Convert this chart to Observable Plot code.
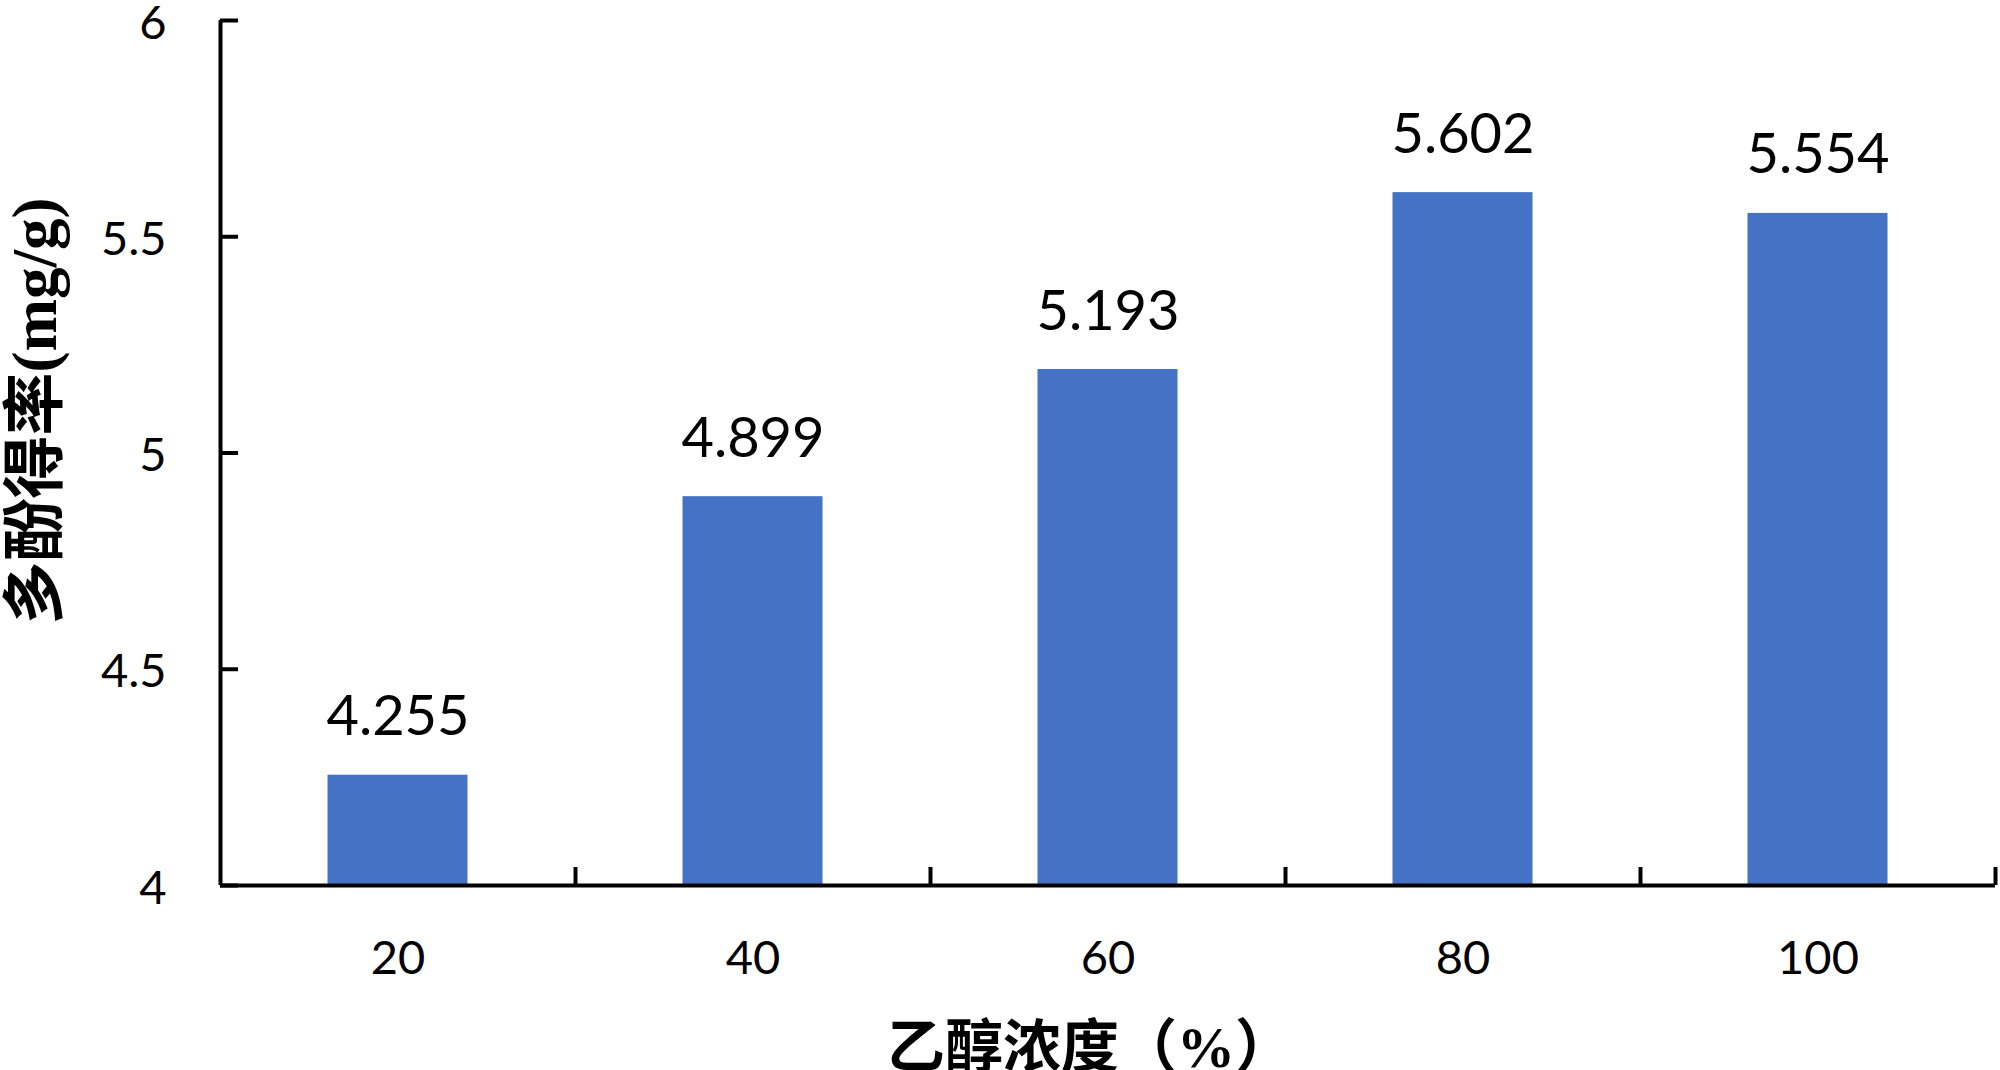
<!DOCTYPE html>
<html>
<head>
<meta charset="utf-8">
<script src="https://cdn.jsdelivr.net/npm/d3@7"></script>
<script src="https://cdn.jsdelivr.net/npm/@observablehq/plot@0.6"></script>
<style>
  html, body { margin: 0; padding: 0; background: #fff; }
  svg { display: block; }
</style>
</head>
<body>
<div id="chart"></div>
<script>
const categories = ["20", "40", "60", "80", "100"];
const values = [4.255, 4.899, 5.193, 5.602, 5.554];
const yTicks = [4, 4.5, 5, 5.5, 6];
const xTitle = "乙醇浓度（%）";
const yTitle = "多酚得率(mg/g)";

const data = categories.map((c, i) => ({c, v: values[i]}));

const W = 2000, H = 1070;
const mL = 220, mR = 5, mT = 20, mB = 185;
const step = (W - mL - mR) / categories.length;
const barW = 140;
const inset = (step - barW) / 2;

const tickFont = "Lato, 'Noto Sans', sans-serif";
const titleFont = "'Liberation Serif', 'Noto Sans CJK SC', serif";

const chart = Plot.plot({
  width: W,
  height: H,
  marginLeft: mL,
  marginRight: mR,
  marginTop: mT,
  marginBottom: mB,
  style: {background: "#fff", color: "#000"},
  x: {type: "band", domain: categories, padding: 0},
  y: {domain: [4, 6]},
  marks: [
    Plot.barY(data, {x: "c", y1: 4, y2: "v", fill: "#4472C4", insetLeft: inset, insetRight: inset}),
    // y axis inward ticks
    Plot.axisY({ticks: yTicks, tickSize: -18, strokeWidth: 4, tickFormat: () => "", label: null}),
    // y axis labels
    Plot.axisY({ticks: yTicks, tickSize: 0, tickPadding: 54, dy: 3, fontSize: 47, fontFamily: tickFont, label: null, tickFormat: d => String(d)}),
    // x axis labels
    Plot.axisX({tickSize: 0, tickPadding: 55, fontSize: 47, fontFamily: tickFont, label: null}),
    // x axis boundary ticks (inward)
    Plot.axisX({tickSize: -18, dx: step / 2, strokeWidth: 4, tickFormat: () => "", label: null}),
    // axis lines
    Plot.ruleY([4], {stroke: "#000", strokeWidth: 4}),
    Plot.ruleX([categories[0]], {y1: 4, y2: 6, dx: -step / 2, stroke: "#000", strokeWidth: 4}),
    // value labels
    Plot.text(data, {x: "c", y: "v", text: d => d.v.toFixed(3), lineAnchor: "bottom", dy: -40, fontSize: 56, fontFamily: tickFont, fill: "#000"}),
    // titles
    Plot.text([xTitle], {frameAnchor: "bottom", text: d => d, textAnchor: "middle", lineAnchor: "middle", dy: 163, dx: -18, fontSize: 58, fontWeight: "bold", fontFamily: titleFont, fill: "#000"}),
    Plot.text([yTitle], {frameAnchor: "left", text: d => d, rotate: -90, textAnchor: "middle", lineAnchor: "middle", dx: -185, dy: -42, fontSize: 63, fontWeight: "bold", fontFamily: titleFont, fill: "#000"})
  ]
});
document.getElementById("chart").appendChild(chart);
</script>
</body>
</html>
